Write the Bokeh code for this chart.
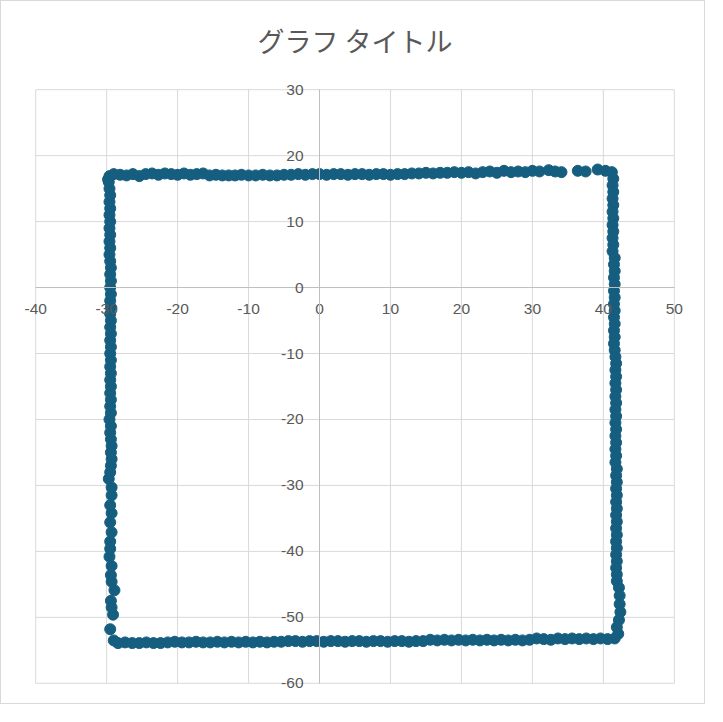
from bokeh.plotting import figure
from bokeh.models import Range1d, FixedTicker
from bokeh.embed import file_html
from bokeh.resources import INLINE

title_text = "グラフ タイトル"
x_ticks = [-40, -30, -20, -10, 0, 10, 20, 30, 40, 50]
x_tick_labels = ["-40", "-30", "-20", "-10", "0", "10", "20", "30", "40", "50"]
y_ticks = [-60, -50, -40, -30, -20, -10, 0, 10, 20, 30]
y_tick_labels = ["-60", "-50", "-40", "-30", "-20", "-10", "0", "10", "20", "30"]

top_edge = [
    (-29.8, 16.4), (-29.6, 16.9), (-29.0, 17.2), (-28.1, 17.1), (-27.2, 17.0), (-26.3, 17.2),
    (-25.4, 16.9), (-24.5, 17.2), (-23.6, 17.3), (-22.7, 17.1), (-21.8, 17.3), (-20.9, 17.2),
    (-20.0, 17.1), (-19.1, 17.3), (-18.2, 17.1), (-17.3, 17.2), (-16.4, 17.3), (-15.5, 17.0),
    (-14.6, 17.1), (-13.7, 17.0), (-12.8, 17.0), (-11.9, 17.0), (-11.0, 17.1), (-10.0, 17.0),
    (-9.0, 17.0), (-8.0, 17.1), (-7.0, 17.0), (-6.0, 17.0), (-5.0, 17.1), (-4.0, 17.1),
    (-3.0, 17.2), (-2.0, 17.1), (-1.0, 17.2), (0.0, 17.2), (1.0, 17.1), (2.0, 17.2),
    (3.0, 17.2), (4.0, 17.1), (5.0, 17.2), (6.0, 17.2), (7.0, 17.1), (8.0, 17.2),
    (9.0, 17.2), (10.0, 17.1), (11.0, 17.2), (12.0, 17.2), (13.0, 17.3), (14.0, 17.3),
    (15.0, 17.4), (16.0, 17.3), (17.0, 17.4), (18.0, 17.4), (19.0, 17.5), (20.0, 17.4),
    (21.0, 17.5), (22.0, 17.3), (23.0, 17.5), (24.0, 17.6), (25.0, 17.4), (26.0, 17.7),
    (27.0, 17.5), (28.0, 17.6), (29.0, 17.5), (30.0, 17.7), (31.0, 17.6), (32.3, 17.8),
    (33.2, 17.6), (34.1, 17.5), (36.4, 17.7), (37.5, 17.6), (39.2, 17.9), (40.3, 17.7),
    (41.2, 17.5),
]

right_edge = [
    (41.4, 16.5), (41.3, 15.5), (41.4, 14.5), (41.3, 13.5), (41.4, 12.5), (41.3, 11.5),
    (41.4, 10.5), (41.3, 9.5), (41.4, 8.5), (41.3, 7.5), (41.4, 6.5), (41.3, 5.5),
    (41.6, 4.5), (41.5, 3.5), (41.6, 2.5), (41.5, 1.5), (41.6, 0.5), (41.5, -0.5),
    (41.6, -1.5), (41.5, -2.5), (41.6, -3.5), (41.5, -4.5), (41.6, -5.5), (41.5, -6.5),
    (41.6, -7.5), (41.5, -8.5), (41.6, -9.5), (41.7, -10.5), (41.8, -11.5), (41.7, -12.5),
    (41.8, -13.5), (41.7, -14.5), (41.8, -15.5), (41.7, -16.5), (41.8, -17.5), (41.7, -18.5),
    (41.8, -19.5), (41.7, -20.5), (41.8, -21.5), (41.7, -22.5), (41.8, -23.5), (41.7, -24.5),
    (41.8, -25.5), (41.7, -26.5), (41.9, -27.5), (41.8, -28.5), (41.9, -29.5), (41.8, -30.5),
    (41.9, -31.5), (41.8, -32.5), (41.9, -33.5), (41.8, -34.5), (41.9, -35.5), (41.8, -36.5),
    (41.9, -37.5), (41.8, -38.5), (41.9, -39.5), (41.8, -40.5), (41.9, -41.5), (41.8, -42.5),
    (41.9, -43.5), (41.9, -44.5), (42.2, -45.5), (42.3, -46.7), (42.3, -48.0), (42.4, -49.2),
    (42.2, -50.4), (41.9, -51.5), (42.1, -52.5),
]

bottom_edge = [
    (41.6, -53.2), (40.6, -53.3), (39.6, -53.2), (38.6, -53.3), (37.6, -53.2), (36.6, -53.3),
    (35.6, -53.2), (34.6, -53.3), (33.6, -53.2), (32.6, -53.4), (31.6, -53.3), (30.6, -53.2),
    (29.6, -53.4), (28.6, -53.5), (27.6, -53.4), (26.6, -53.5), (25.6, -53.4), (24.6, -53.5),
    (23.6, -53.4), (22.6, -53.5), (21.6, -53.4), (20.6, -53.5), (19.6, -53.4), (18.6, -53.5),
    (17.6, -53.4), (16.6, -53.5), (15.6, -53.4), (14.6, -53.6), (13.6, -53.6), (12.6, -53.7),
    (11.6, -53.6), (10.6, -53.6), (9.6, -53.7), (8.6, -53.6), (7.6, -53.6), (6.6, -53.7),
    (5.6, -53.6), (4.6, -53.6), (3.6, -53.7), (2.6, -53.6), (1.6, -53.6), (0.6, -53.7),
    (-0.4, -53.6), (-1.4, -53.6), (-2.4, -53.7), (-3.4, -53.6), (-4.4, -53.6), (-5.4, -53.7),
    (-6.4, -53.7), (-7.4, -53.8), (-8.4, -53.7), (-9.4, -53.8), (-10.4, -53.7), (-11.4, -53.8),
    (-12.4, -53.7), (-13.4, -53.8), (-14.4, -53.7), (-15.4, -53.8), (-16.4, -53.8), (-17.4, -53.7),
    (-18.4, -53.8), (-19.4, -53.8), (-20.4, -53.7), (-21.4, -53.8), (-22.4, -53.9), (-23.4, -53.9),
    (-24.4, -53.8), (-25.4, -53.9), (-26.4, -53.9), (-27.4, -53.8), (-28.4, -53.9), (-29.0, -53.5),
]

left_edge = [
    (-29.5, -51.8), (-29.1, -49.6), (-29.3, -48.5), (-29.4, -47.5), (-28.9, -45.9), (-29.3, -44.6),
    (-29.4, -43.6), (-29.3, -42.2), (-29.6, -40.8), (-29.5, -39.6), (-29.5, -38.5), (-29.3, -37.1),
    (-29.5, -35.6), (-29.3, -34.2), (-29.5, -33.0), (-29.3, -31.5), (-29.3, -30.3), (-29.7, -29.0),
    (-29.5, -28.0), (-29.4, -27.0), (-29.3, -26.0), (-29.4, -25.0), (-29.3, -24.0), (-29.4, -23.0),
    (-29.5, -22.0), (-29.4, -21.0), (-29.6, -20.0), (-29.4, -19.0), (-29.5, -18.0), (-29.4, -17.0),
    (-29.5, -16.0), (-29.4, -15.0), (-29.5, -14.0), (-29.4, -13.0), (-29.5, -12.0), (-29.4, -11.0),
    (-29.5, -10.0), (-29.4, -9.0), (-29.5, -8.0), (-29.4, -7.0), (-29.5, -6.0), (-29.4, -5.0),
    (-29.5, -4.0), (-29.4, -3.0), (-29.5, -2.0), (-29.4, -1.0), (-29.5, 0.0), (-29.4, 1.0),
    (-29.5, 2.0), (-29.4, 3.0), (-29.5, 4.0), (-29.6, 5.0), (-29.5, 6.0), (-29.6, 7.0),
    (-29.5, 8.0), (-29.6, 9.0), (-29.5, 10.0), (-29.6, 11.0), (-29.5, 12.0), (-29.6, 13.0),
    (-29.5, 14.0), (-29.6, 15.0), (-29.7, 16.0),
]

points = top_edge + right_edge + bottom_edge + left_edge
xs = [pt[0] for pt in points]
ys = [pt[1] for pt in points]

x_min, x_max = x_ticks[0], x_ticks[-1]
y_min, y_max = y_ticks[0], y_ticks[-1]

TEXT_GRAY = "#595959"
GRID = "#D9D9D9"
AXIS = "#BFBFBF"
MARK = "#165E80"

p = figure(
    width=705, height=704,
    output_backend="svg", toolbar_location=None,
    x_range=Range1d(-42, 52), y_range=Range1d(-62, 32),
    min_border_left=20, min_border_right=18, min_border_top=75, min_border_bottom=9,
    background_fill_color="white", border_fill_color="white",
    outline_line_color=None,
)
p.styles = {"border": "1px solid #D9D9D9"}

p.title.text = title_text
p.title.align = "center"
p.title.text_font = "Noto Sans CJK JP"
p.title.text_font_size = "27px"
p.title.text_font_style = "normal"
p.title.text_color = TEXT_GRAY
p.title.standoff = 34

p.grid.visible = False

# gridlines (Excel style, bounded to the axis limits)
p.segment(x0=x_ticks, y0=[y_min] * len(x_ticks), x1=x_ticks, y1=[y_max] * len(x_ticks),
          line_color=GRID, line_width=1)
p.segment(x0=[x_min] * len(y_ticks), y0=y_ticks, x1=[x_max] * len(y_ticks), y1=y_ticks,
          line_color=GRID, line_width=1)

for ax, ticks, labels, bnds in ((p.xaxis, x_ticks, x_tick_labels, (x_min, x_max)),
                                (p.yaxis, y_ticks, y_tick_labels, (y_min, y_max))):
    ax.fixed_location = 0
    ax.bounds = bnds
    ax.ticker = FixedTicker(ticks=ticks)
    ax.major_label_overrides = {t: l for t, l in zip(ticks, labels)}
    ax.axis_line_color = AXIS
    ax.axis_line_width = 1
    ax.major_tick_line_color = None
    ax.minor_tick_line_color = None
    ax.major_tick_in = 0
    ax.major_tick_out = 0
    ax.major_label_text_font = "Liberation Sans"
    ax.major_label_text_font_size = "15.5px"
    ax.major_label_text_color = TEXT_GRAY
    ax.major_label_standoff = 16

p.scatter(xs, ys, size=11, fill_color=MARK, line_color=MARK)

with open("out.html", "w", encoding="utf-8") as f:
    f.write(file_html(p, INLINE))
